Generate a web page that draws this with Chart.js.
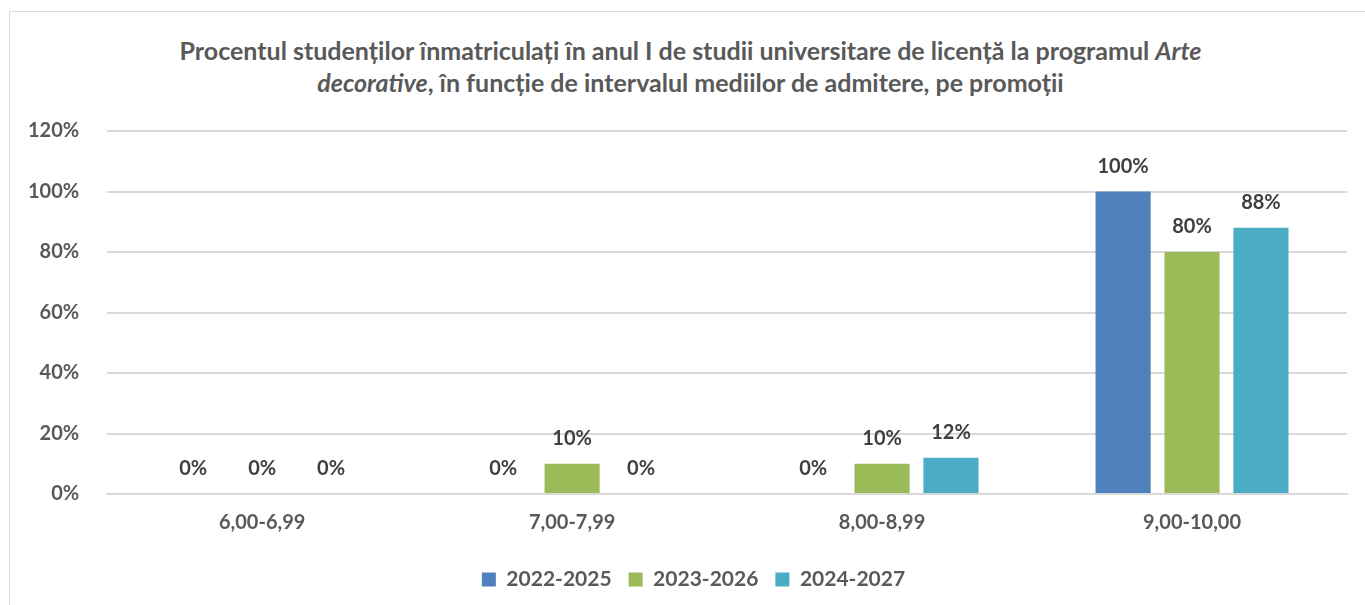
<!DOCTYPE html>
<html>
<head>
<meta charset="utf-8">
<script src="https://cdn.jsdelivr.net/npm/chart.js@4"></script>
<style>
  html, body { margin: 0; padding: 0; background: #fff; }
  body { width: 1365px; height: 605px; position: relative; overflow: hidden; }
  #frame {
    position: absolute; left: 9px; top: 11px; width: 1370px; height: 610px;
    border: 1px solid #d9d9d9; box-sizing: border-box;
  }
  #title {
    position: absolute; left: 8px; top: 34px; width: 1365px;
    text-align: center; color: #595959;
    font: bold 25px Lato, "Open Sans", sans-serif;
    line-height: 32px;
  }
  #wrap { position: absolute; left: 0; top: 0; width: 1365px; height: 605px; }
</style>
</head>
<body>
<div id="frame"></div>
<div id="title">Procentul studenților înmatriculați în anul I de studii universitare de licență la programul <i>Arte<br>decorative</i>, în funcție de intervalul mediilor de admitere, pe promoții</div>
<div id="wrap"><canvas id="chart"></canvas></div>
<script>
const categories = ["6,00-6,99", "7,00-7,99", "8,00-8,99", "9,00-10,00"];
const seriesNames = ["2022-2025", "2023-2026", "2024-2027"];
const values2022 = [0, 0, 0, 100];
const values2023 = [0, 10, 10, 80];
const values2024 = [0, 0, 12, 88];
const yTicks = [0, 20, 40, 60, 80, 100, 120];

const colors = ["#4f81bd", "#9bbb59", "#4bacc6"];
const fontFamily = 'Lato, "Open Sans", sans-serif';

// draws the value above each bar
const valueLabels = {
  id: "valueLabels",
  afterDatasetsDraw(chart) {
    const ctx = chart.ctx;
    ctx.save();
    ctx.font = "bold 20px " + fontFamily;
    ctx.fillStyle = "#404040";
    ctx.textAlign = "center";
    ctx.textBaseline = "middle";
    chart.data.datasets.forEach((ds, i) => {
      const meta = chart.getDatasetMeta(i);
      meta.data.forEach((bar, j) => {
        ctx.fillText(ds.data[j] + "%", bar.x, bar.y - 25);
      });
    });
    ctx.restore();
  },
};

// legend sits a bit right of centre in the original
const legendShift = {
  id: "legendShift",
  afterLayout(chart) {
    chart.legend.left += 20;
    chart.legend.right += 20;
  },
};

const ctx = document.getElementById("chart").getContext("2d");
new Chart(ctx, {
  type: "bar",
  data: {
    labels: categories,
    datasets: [
      { label: seriesNames[0], data: values2022, backgroundColor: colors[0] },
      { label: seriesNames[1], data: values2023, backgroundColor: colors[1] },
      { label: seriesNames[2], data: values2024, backgroundColor: colors[2] },
    ],
  },
  options: {
    responsive: true,
    maintainAspectRatio: false,
    animation: false,
    layout: { padding: { top: 131, left: 0, right: 18, bottom: 5 } },
    datasets: {
      bar: { barPercentage: 0.8, categoryPercentage: 0.667 },
    },
    plugins: {
      title: { display: false },
      tooltip: { enabled: false },
      legend: {
        position: "bottom",
        labels: {
          boxWidth: 14,
          boxHeight: 14,
          padding: 17,
          color: "#595959",
          font: { family: fontFamily, size: 21, weight: "bold" },
        },
      },
    },
    scales: {
      x: {
        grid: { display: false, drawTicks: false },
        border: { display: true, color: "#d9d9d9", width: 2 },
        ticks: {
          padding: 17,
          color: "#595959",
          font: { family: fontFamily, size: 20, weight: "bold" },
        },
      },
      y: {
        min: 0,
        max: 120,
        afterBuildTicks(axis) {
          axis.ticks = yTicks.map((v) => ({ value: v }));
        },
        grid: { color: "#d9d9d9", lineWidth: 2, drawTicks: false },
        border: { display: false },
        ticks: {
          padding: 28,
          color: "#595959",
          font: { family: fontFamily, size: 20, weight: "bold" },
          callback: (v) => v + "%",
        },
      },
    },
  },
  plugins: [valueLabels, legendShift],
});
</script>
</body>
</html>
